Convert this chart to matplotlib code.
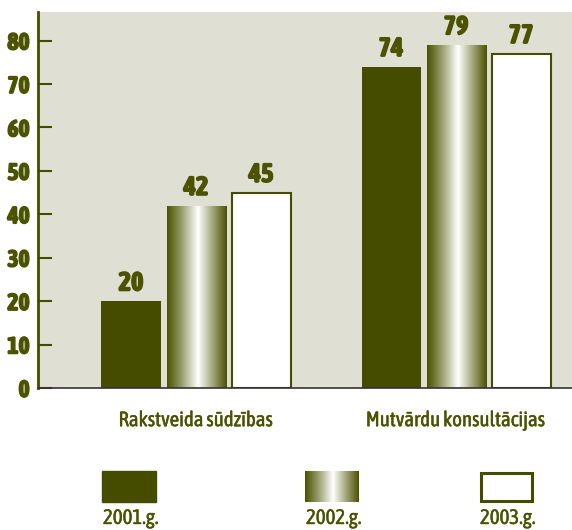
import numpy as np
import matplotlib
matplotlib.use('Agg')
import matplotlib.pyplot as plt
from matplotlib import font_manager as fm
from matplotlib import patheffects as pe
from matplotlib.colors import LinearSegmentedColormap
from matplotlib.patches import Rectangle

# data
categories = ['Rakstveida sūdzības', 'Mutvārdu konsultācijas']
years = ['2001.g.', '2002.g.', '2003.g.']
values_2001 = [20, 74]
values_2002 = [42, 79]
values_2003 = [45, 77]
y_ticks = [0, 10, 20, 30, 40, 50, 60, 70, 80]

olive = '#454c00'
text_col = '#4b5300'
bg = '#dfe0d3'

# the original uses a condensed font; pick a narrow family, ideally one with a bold face
cands = {}
for f in fm.fontManager.ttflist:
    if 'Narrow' in f.name or 'Condensed' in f.name:
        cands.setdefault(f.name, set()).add(f.weight)
narrow = None
for name, weights in sorted(cands.items()):
    if any(w in ('bold', 700, 'heavy', 800) for w in weights):
        narrow = name
        break
if narrow is None and cands:
    narrow = sorted(cands)[0]
fonts = [narrow, 'DejaVu Sans'] if narrow else ['DejaVu Sans']
plt.rcParams['font.family'] = fonts

# small stroke to thicken the bold numbers, as in the original
bold_fx = [pe.withStroke(linewidth=1.0, foreground=text_col)]
mid_fx = [pe.withStroke(linewidth=0.3, foreground=text_col)]

metal = LinearSegmentedColormap.from_list(
    'metal', [(0, '#4a5200'), (0.22, '#8f9560'), (0.52, '#ffffff'),
              (0.78, '#9ca072'), (1, '#4a5200')])
grad = np.linspace(0, 1, 256).reshape(1, -1)

fig = plt.figure(figsize=(5.72, 5.30), dpi=100)
ax = fig.add_axes([38 / 572, 1 - 388 / 530, 1 - 38 / 572, 376 / 530])
ax.set_facecolor(bg)

x = np.arange(len(categories))
w = 0.227
step = 0.25

b1 = ax.bar(x - step, values_2001, w, color=olive, zorder=2)
b2 = ax.bar(x, values_2002, w, color='none', zorder=2)
b3 = ax.bar(x + step, values_2003, w, color='white', edgecolor=olive,
            linewidth=1.5, zorder=2)

for r in b2:
    im = ax.imshow(grad, cmap=metal, aspect='auto', zorder=2,
                   extent=[r.get_x(), r.get_x() + r.get_width(), 0, r.get_height()])
    im.set_clip_path(r)

for bars in (b1, b2, b3):
    for r in bars:
        ax.annotate(str(int(r.get_height())),
                    (r.get_x() + r.get_width() / 2, r.get_height()),
                    xytext=(0, 4), textcoords='offset points',
                    ha='center', va='bottom', fontsize=19, fontweight='bold',
                    color=text_col, path_effects=bold_fx)

ax.set_xlim(-0.6077, 1.446)
ax.set_ylim(0, 86.6)

ax.set_yticks(y_ticks)
ax.set_yticklabels([str(t) for t in y_ticks], fontweight='bold', fontsize=17,
                   color=text_col, path_effects=bold_fx)
ax.tick_params(axis='y', direction='in', length=10, width=1.5, color=olive, pad=6)
ax.set_xticks(x)
ax.set_xticklabels(categories, fontsize=15, color=text_col, path_effects=mid_fx)
ax.tick_params(axis='x', length=0, pad=16)

for s in ('top', 'right'):
    ax.spines[s].set_visible(False)
ax.spines['left'].set_color(olive)
ax.spines['left'].set_linewidth(2)
ax.spines['bottom'].set_color('#333333')
ax.spines['bottom'].set_linewidth(1.2)

# legend drawn in pixel-like figure coordinates
lg = fig.add_axes([0, 0, 1, 1], zorder=-1)
lg.set_xlim(0, 572)
lg.set_ylim(530, 0)
lg.axis('off')
box_left = [102, 305, 479]
box_w, box_top, box_h = 54, 471, 31
for i, (xl, lab) in enumerate(zip(box_left, years)):
    if i == 0:
        lg.add_patch(Rectangle((xl, box_top), box_w, box_h, color=olive))
    elif i == 1:
        lg.imshow(grad, cmap=metal, aspect='auto',
                  extent=[xl, xl + box_w, box_top + box_h, box_top])
    else:
        lg.add_patch(Rectangle((xl + 1.5, box_top + 1.5), box_w - 3, box_h - 3,
                               facecolor='white', edgecolor=olive, linewidth=2.2))
    lg.text(xl + box_w / 2 + 2, 518, lab, ha='center', va='center',
            fontsize=15, color=text_col, path_effects=mid_fx)
lg.set_xlim(0, 572)
lg.set_ylim(530, 0)

fig.savefig('out.png', dpi=100)
